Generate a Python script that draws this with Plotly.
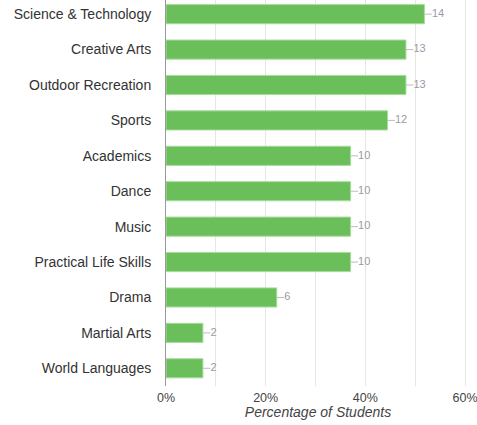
import plotly.graph_objects as go

categories = ["Science & Technology", "Creative Arts", "Outdoor Recreation", "Sports",
              "Academics", "Dance", "Music", "Practical Life Skills", "Drama",
              "Martial Arts", "World Languages"]
counts = [14, 13, 13, 12, 10, 10, 10, 10, 6, 2, 2]
total_students = 27
x_ticks = [0, 20, 40, 60]
x_tick_labels = ["0%", "20%", "40%", "60%"]

pct = [c / total_students * 100 for c in counts]

# bottom-to-top order for the categorical axis
cats_r = categories[::-1]
pct_r = pct[::-1]
counts_r = counts[::-1]

LEAD = 1.5  # leader line length in % units

line_x, line_y = [], []
for c, p in zip(cats_r, pct_r):
    line_x += [p, p + LEAD, None]
    line_y += [c, c, None]

fig = go.Figure()
fig.add_trace(go.Bar(
    x=pct_r, y=cats_r, orientation="h", width=0.54,
    marker=dict(color="#6abf5b", line=dict(color="#a6dc9c", width=1)),
    hoverinfo="skip",
))
fig.add_trace(go.Scatter(
    x=line_x, y=line_y, mode="lines",
    line=dict(color="#bdbdbd", width=1), hoverinfo="skip", cliponaxis=False,
))
fig.add_trace(go.Scatter(
    x=[p + LEAD for p in pct_r], y=cats_r, mode="text",
    text=[str(c) for c in counts_r], textposition="middle right",
    textfont=dict(color="#9a9aa6", size=11, family="Liberation Sans, Arial"),
    hoverinfo="skip", cliponaxis=False,
))

fig.update_layout(
    width=477, height=425,
    margin=dict(l=166, r=7, t=0, b=39, autoexpand=False),
    plot_bgcolor="white", paper_bgcolor="white",
    showlegend=False,
    font=dict(family="Liberation Sans, Arial", size=12, color="#333333"),
    xaxis=dict(
        range=[0, 61], tickvals=x_ticks, ticktext=x_tick_labels,
        showgrid=True, gridcolor="#e6e6e6", gridwidth=1,
        minor=dict(tickvals=[10, 30, 50], showgrid=True, gridcolor="#e6e6e6"),
        zeroline=False, showline=False, automargin=False,
        ticklabelstandoff=2, ticklabeloverflow="allow",
        tickfont=dict(size=12.5, color="#444444"),
        title=dict(text="<i>Percentage of Students</i>", standoff=2,
                   font=dict(size=14, color="#444444")),
        fixedrange=True,
    ),
    yaxis=dict(
        type="category", categoryorder="array", categoryarray=cats_r,
        range=[-0.5, 10.4], automargin=False,
        showgrid=False, showline=True, linecolor="#999999", linewidth=1,
        ticks="", ticklabelstandoff=11,
        tickfont=dict(size=14, color="#333333"),
        fixedrange=True,
    ),
)

fig.write_html(
    "out.html",
    config={"displayModeBar": False},
    post_script="document.body.style.margin='0';document.body.style.overflow='hidden';",
)
